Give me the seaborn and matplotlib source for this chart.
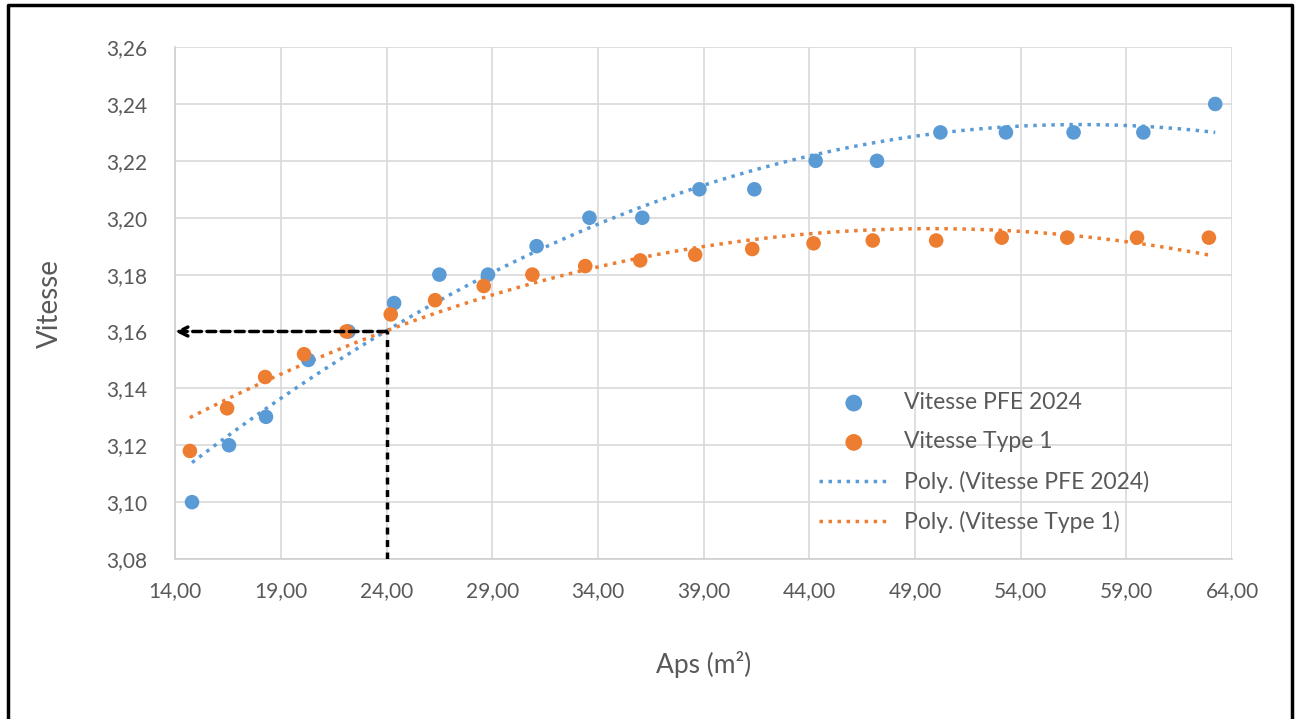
import numpy as np
import pandas as pd
import matplotlib
matplotlib.use('Agg')
import matplotlib.pyplot as plt
import seaborn as sns
from matplotlib.lines import Line2D

# points
aps_pfe = [14.8, 16.55, 18.3, 20.3, 22.2, 24.36, 26.5, 28.8, 31.1, 33.6,
           36.1, 38.8, 41.4, 44.3, 47.2, 50.2, 53.3, 56.5, 59.8, 63.2]
vit_pfe = [3.100, 3.120, 3.130, 3.150, 3.160, 3.170, 3.180, 3.180, 3.190, 3.200,
           3.200, 3.210, 3.210, 3.220, 3.220, 3.230, 3.230, 3.230, 3.230, 3.240]

aps_t1 = [14.7, 16.46, 18.26, 20.1, 22.1, 24.2, 26.3, 28.6, 30.9, 33.4,
          36.0, 38.6, 41.3, 44.2, 47.0, 50.0, 53.1, 56.2, 59.5, 62.9]
vit_t1 = [3.118, 3.133, 3.144, 3.152, 3.160, 3.166, 3.171, 3.176, 3.180, 3.183,
          3.185, 3.187, 3.189, 3.191, 3.192, 3.192, 3.193, 3.193, 3.193, 3.193]

# reading lines
aps_lu = 24.0
vit_lu = 3.16

blue = '#5B9BD5'
orange = '#ED7D31'
grey = '#595959'

sns.set_style('white')
plt.rcParams['font.family'] = ['Lato', 'DejaVu Sans']

df_pfe = pd.DataFrame({'aps': aps_pfe, 'vit': vit_pfe})
df_t1 = pd.DataFrame({'aps': aps_t1, 'vit': vit_t1})

# excel polynomial trendlines (order 2)
def trend(df):
    c = np.polyfit(df['aps'], df['vit'], 2)
    xs = np.linspace(df['aps'].min(), df['aps'].max(), 200)
    return pd.DataFrame({'aps': xs, 'vit': np.polyval(c, xs)})

tr_pfe = trend(df_pfe)
tr_t1 = trend(df_t1)

fig = plt.figure(figsize=(12.97, 7.19), dpi=100)
ax = fig.add_axes([0.135, 0.2225, 0.815, 0.712])

sns.scatterplot(data=df_pfe, x='aps', y='vit', ax=ax, color=blue, s=110,
                edgecolor='none', label='Vitesse PFE 2024', zorder=3)
sns.scatterplot(data=df_t1, x='aps', y='vit', ax=ax, color=orange, s=110,
                edgecolor='none', label='Vitesse Type 1', zorder=3)
sns.lineplot(data=tr_pfe, x='aps', y='vit', ax=ax, color=blue, lw=2.5,
             linestyle=(0, (1, 1.6)), label='Poly. (Vitesse PFE 2024)', zorder=2)
sns.lineplot(data=tr_t1, x='aps', y='vit', ax=ax, color=orange, lw=2.5,
             linestyle=(0, (1, 1.6)), label='Poly. (Vitesse Type 1)', zorder=2)

# dashed reading lines
ax.plot([aps_lu, aps_lu], [3.08, vit_lu], color='black', lw=2.5,
        linestyle=(0, (2, 1.6)), zorder=4)
ax.annotate('', xy=(14.0, vit_lu), xytext=(aps_lu, vit_lu),
            arrowprops=dict(arrowstyle='->', color='black', lw=2.5,
                            linestyle=(0, (2.5, 1.6)), shrinkA=0, shrinkB=0,
                            mutation_scale=16),
            zorder=4)

ax.set_xlim(14, 64)
ax.set_ylim(3.08, 3.26)
ax.set_xticks(np.arange(14, 65, 5))
ax.set_yticks(np.arange(3.08, 3.261, 0.02))
ax.set_xticklabels([f'{v:.2f}'.replace('.', ',') for v in np.arange(14, 65, 5)])
ax.set_yticklabels([f'{v:.2f}'.replace('.', ',') for v in np.arange(3.08, 3.261, 0.02)])
ax.grid(True, color='#d9d9d9', lw=1.2)
ax.set_axisbelow(True)
for side in ['top', 'right']:
    ax.spines[side].set_visible(False)
for side in ['left', 'bottom']:
    ax.spines[side].set_color('#d0d0d0')
    ax.spines[side].set_linewidth(1.2)
ax.tick_params(axis='both', length=0, labelsize=15, labelcolor=grey)
ax.tick_params(axis='x', pad=16)
ax.tick_params(axis='y', pad=20)

ax.set_xlabel('Aps (m²)', fontsize=19, color=grey, labelpad=36)
ax.set_ylabel('Vitesse', fontsize=20, color=grey, labelpad=31)

leg = ax.legend(loc='lower left', bbox_to_anchor=(0.59, 0.01), frameon=False,
                fontsize=16.5, labelcolor=grey, handlelength=3.0,
                labelspacing=0.8, handletextpad=0.7, markerscale=1.15)

# border of the picture (left, top, right)
fig.lines.append(Line2D([0.006, 0.006, 0.996, 0.996], [0.0, 0.993, 0.993, 0.0],
                        transform=fig.transFigure, color='black', lw=2.5))

fig.savefig('out.png', dpi=100)
